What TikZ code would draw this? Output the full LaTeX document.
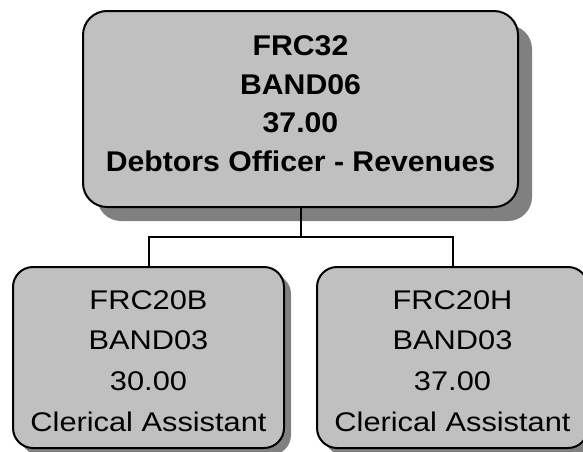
\documentclass[tikz,border=0pt]{standalone}
\usepackage{fontspec}
\setmainfont{Liberation Sans}
\newfontfamily\topfont[FakeStretch=1.06]{Liberation Sans}
\newfontfamily\botfont[FakeStretch=1.14]{Liberation Sans}
\usetikzlibrary{shadows}
\definecolor{boxfill}{HTML}{C0C0C0}
\definecolor{shadowgray}{HTML}{808080}
\begin{document}
\begin{tikzpicture}[x=1pt,y=-1pt,
  topbox/.style={draw=black, line width=2pt, fill=boxfill, rounded corners=24pt,
    minimum width=435pt, minimum height=196pt, inner sep=0pt,
    drop shadow={shadow xshift=14pt, shadow yshift=-14pt, fill=shadowgray, opacity=1}},
  botbox/.style={draw=black, line width=2pt, fill=boxfill, rounded corners=20pt,
    minimum width=271pt, minimum height=181pt, inner sep=0pt,
    drop shadow={shadow xshift=7pt, shadow yshift=-7pt, fill=shadowgray, opacity=1}},
  toptext/.style={align=center, inner sep=0pt, font=\topfont\bfseries\fontsize{28.5}{38.5}\selectfont},
  bottext/.style={align=center, inner sep=0pt, font=\botfont\fontsize{27}{40.7}\selectfont},
  conn/.style={draw=black, line width=2pt}]
\useasboundingbox (0,0) rectangle (583,451);
\node[topbox] (top) at (300.5,109) {};
\node[toptext] (toptxt) at (300.5,103.5) {FRC32\\BAND06\\37.00\\Debtors Officer - Revenues};
\node[botbox] (left) at (148.5,357.5) {};
\node[bottext] (lefttxt) at (148.5,361) {FRC20B\\BAND03\\30.00\\Clerical Assistant};
\node[botbox] (right) at (452.5,357.5) {};
\node[bottext] (righttxt) at (452.5,361) {FRC20H\\BAND03\\37.00\\Clerical Assistant};
\coordinate (j) at (300.5,237);
\draw[conn] (top.south) -- (j);
\draw[conn] (left.north) |- (j) -| (right.north);
\end{tikzpicture}
\end{document}
